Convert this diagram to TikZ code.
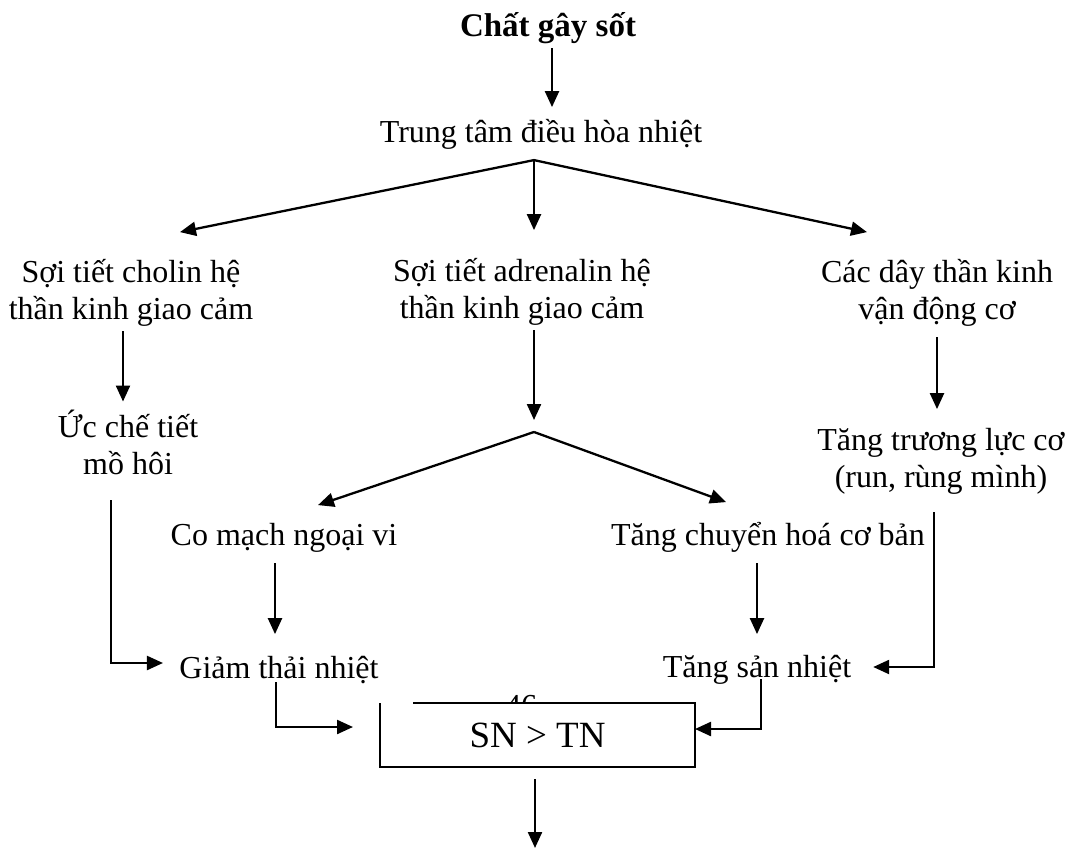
\documentclass[tikz,border=0pt]{standalone}
\usepackage{fontspec}
\setmainfont{Liberation Serif}
\usetikzlibrary{arrows.meta}
\newcommand{\ml}[1]{\begin{tabular}[t]{@{}c@{}}#1\end{tabular}}
\tikzset{
  lbl/.style={inner sep=0pt, outer sep=0pt, anchor=base, font=\fontsize{32}{37}\selectfont},
  conn/.style={line width=2.3pt},
  arr/.style={line width=2.3pt, -{Triangle[length=16pt,width=14pt]}},
  sumbox/.style={inner sep=0pt, outer sep=0pt, fill=white, minimum width=315pt, minimum height=64pt, font=\fontsize{37}{42}\selectfont},
}
\begin{document}
\begin{tikzpicture}[x=1pt,y=-1pt]
\useasboundingbox (0,0) rectangle (1068,850);
% nodes
\node[lbl,font=\bfseries\fontsize{33}{37}\selectfont] (n0) at (548,37) {\ml{Chất gây sốt}};
\node[lbl] (n1) at (541,143) {\ml{Trung tâm điều hòa nhiệt}};
\node[lbl] (n2L) at (131,283) {\ml{Sợi tiết cholin hệ\\thần kinh giao cảm}};
\node[lbl] (n2M) at (522,282) {\ml{Sợi tiết adrenalin hệ\\thần kinh giao cảm}};
\node[lbl] (n2R) at (937,283) {\ml{Các dây thần kinh\\vận động cơ}};
\node[lbl] (n3L) at (128,437) {\ml{Ức chế tiết\\mồ hôi}};
\node[lbl] (n3R) at (941,450) {\ml{Tăng trương lực cơ\\(run, rùng mình)}};
\node[lbl] (n4L) at (284,545) {\ml{Co mạch ngoại vi}};
\node[lbl] (n4R) at (768,545) {\ml{Tăng chuyển hoá cơ bản}};
\node[lbl] (n5L) at (279,678) {\ml{Giảm thải nhiệt}};
\node[lbl] (n5R) at (757,677) {\ml{Tăng sản nhiệt}};
\node[lbl] (pg) at (521,716) {\ml{46}};
\node[sumbox] (box) at (537.5,735) {SN > TN};
\draw[conn] ([xshift=33pt]box.north west) -- (box.north east) -- (box.south east) -- (box.south west) -- (box.north west);
% junctions
\coordinate (c1) at ([xshift=-7pt,yshift=-6pt]n1.south);
\coordinate (c2) at (534,432);
\coordinate (c3) at (535,848);
% connectors
\draw[arr] ([xshift=4pt]n0.south) -- ([xshift=11pt,yshift=10pt]n1.north);
\draw[arr] (c1) -- ([xshift=49pt,yshift=25pt]n2L.north);
\draw[arr] (c1) -- ([xshift=12pt,yshift=26pt]n2M.north);
\draw[arr] (c1) -- ([xshift=-70pt,yshift=25pt]n2R.north);
\draw[arr] ([xshift=-8pt]n2L.south) -- ([xshift=-5pt,yshift=8pt]n3L.north);
\draw[arr] ([xshift=12pt]n2M.south) -- ([yshift=12pt]c2);
\draw[arr] (c2) -- ([xshift=34pt,yshift=14pt]n4L.north);
\draw[arr] (c2) -- ([xshift=-42pt,yshift=17pt]n4R.north);
\draw[arr] ([yshift=-6pt]n2R.south) -- ([xshift=-4pt,yshift=15pt]n3R.north);
\draw[arr] ([xshift=-17pt,yshift=-15pt]n3L.south) |- ([xshift=-16.5pt,yshift=7.6pt]n5L.west);
\draw[arr] ([xshift=-7pt,yshift=-14pt]n3R.south) |- ([xshift=22pt,yshift=2.6pt]n5R.east);
\draw[arr] ([xshift=-9pt,yshift=-7pt]n4L.south) -- ([xshift=-4pt,yshift=18pt]n5L.north);
\draw[arr] ([xshift=-11pt,yshift=-7pt]n4R.south) -- ([yshift=17pt]n5R.north);
\draw[arr] ([xshift=-3pt,yshift=7pt]n5L.south) |- ([xshift=-27pt,yshift=8pt]box.west);
\draw[arr] ([xshift=4pt,yshift=9pt]n5R.south) |- ([yshift=6pt]box.east);
\draw[arr] ([xshift=-2.5pt,yshift=-12pt]box.south) -- (c3);
\end{tikzpicture}
\end{document}
